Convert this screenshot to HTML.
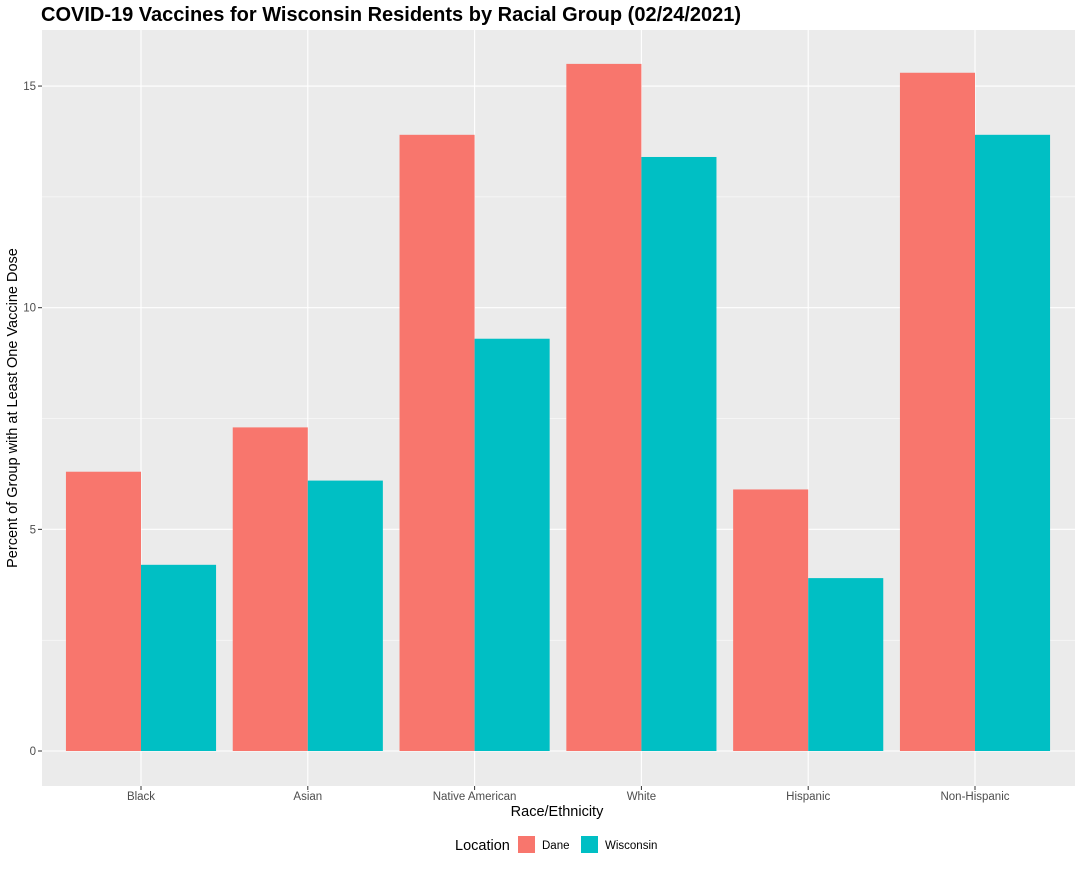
<!DOCTYPE html>
<html><head><meta charset="utf-8"><style>
body{margin:0;background:#fff;font-family:"Liberation Sans",sans-serif}
</style></head><body>
<svg id="c" width="1080" height="864" xmlns="http://www.w3.org/2000/svg">
<text x="41" y="21" font-size="20" font-weight="bold" fill="#000">COVID-19 Vaccines for Wisconsin Residents by Racial Group (02/24/2021)</text>
<rect x="42" y="30" width="1033" height="756" fill="#ebebeb"/>
<g id="grid"></g><g id="bars"></g><g id="axes"></g>
<text x="557" y="816" font-size="14.5" text-anchor="middle">Race/Ethnicity</text>
<text transform="translate(17,408) rotate(-90)" font-size="14.5" text-anchor="middle">Percent of Group with at Least One Vaccine Dose</text>
<g>
<text x="455" y="850" font-size="14.5">Location</text>
<rect x="518" y="836" width="17" height="17" fill="#F8766D"/>
<text x="542" y="849" font-size="11.5">Dane</text>
<rect x="581" y="836" width="17" height="17" fill="#00BFC4"/>
<text x="605" y="849" font-size="11.5">Wisconsin</text>
</g>
</svg>
<script>
const categories=["Black","Asian","Native American","White","Hispanic","Non-Hispanic"];
const dane=[6.3,7.3,13.9,15.5,5.9,15.3];
const wisconsin=[4.2,6.1,9.3,13.4,3.9,13.9];
const yTicks=[0,5,10,15];
const NS="http://www.w3.org/2000/svg";
const y=v=>751-v*44.33;
const step=166.8;
const xc=i=>141+i*step;
const bw=step*0.45;
function mk(t,a,p){const e=document.createElementNS(NS,t);for(const k in a)e.setAttribute(k,a[k]);p.appendChild(e);return e;}
const grid=document.getElementById('grid'),bars=document.getElementById('bars'),axes=document.getElementById('axes');
for(let v=-2.5;v<=17.5;v+=2.5){const yy=y(v);if(yy<30||yy>786)continue;
 const l=mk('line',{x1:42,x2:1075,y1:yy,y2:yy,stroke:'#fff','stroke-width':(v%5===0)?1.1:0.5},grid);
 }
categories.forEach((c,i)=>{
 const l=mk('line',{x1:xc(i),x2:xc(i),y1:30,y2:786,stroke:'#fff','stroke-width':1.1},grid);
 
 const r1=mk('rect',{x:xc(i)-bw,y:y(dane[i]),width:bw,height:y(0)-y(dane[i]),fill:'#F8766D'},bars);
 
 const r2=mk('rect',{x:xc(i),y:y(wisconsin[i]),width:bw,height:y(0)-y(wisconsin[i]),fill:'#00BFC4'},bars);
 
 const tk=mk('line',{x1:xc(i),x2:xc(i),y1:786,y2:790,stroke:'#333'},axes);
 
 const t=mk('text',{x:xc(i),y:800,'font-size':11.5,'text-anchor':'middle',fill:'#4d4d4d'},axes);t.textContent=c;
 
});
yTicks.forEach(v=>{
 const tk=mk('line',{x1:38,x2:42,y1:y(v),y2:y(v),stroke:'#333'},axes);
 
 const t=mk('text',{x:36,y:y(v)+4,'font-size':11.5,'text-anchor':'end',fill:'#4d4d4d'},axes);t.textContent=v;
 
});
</script>
</body></html>
